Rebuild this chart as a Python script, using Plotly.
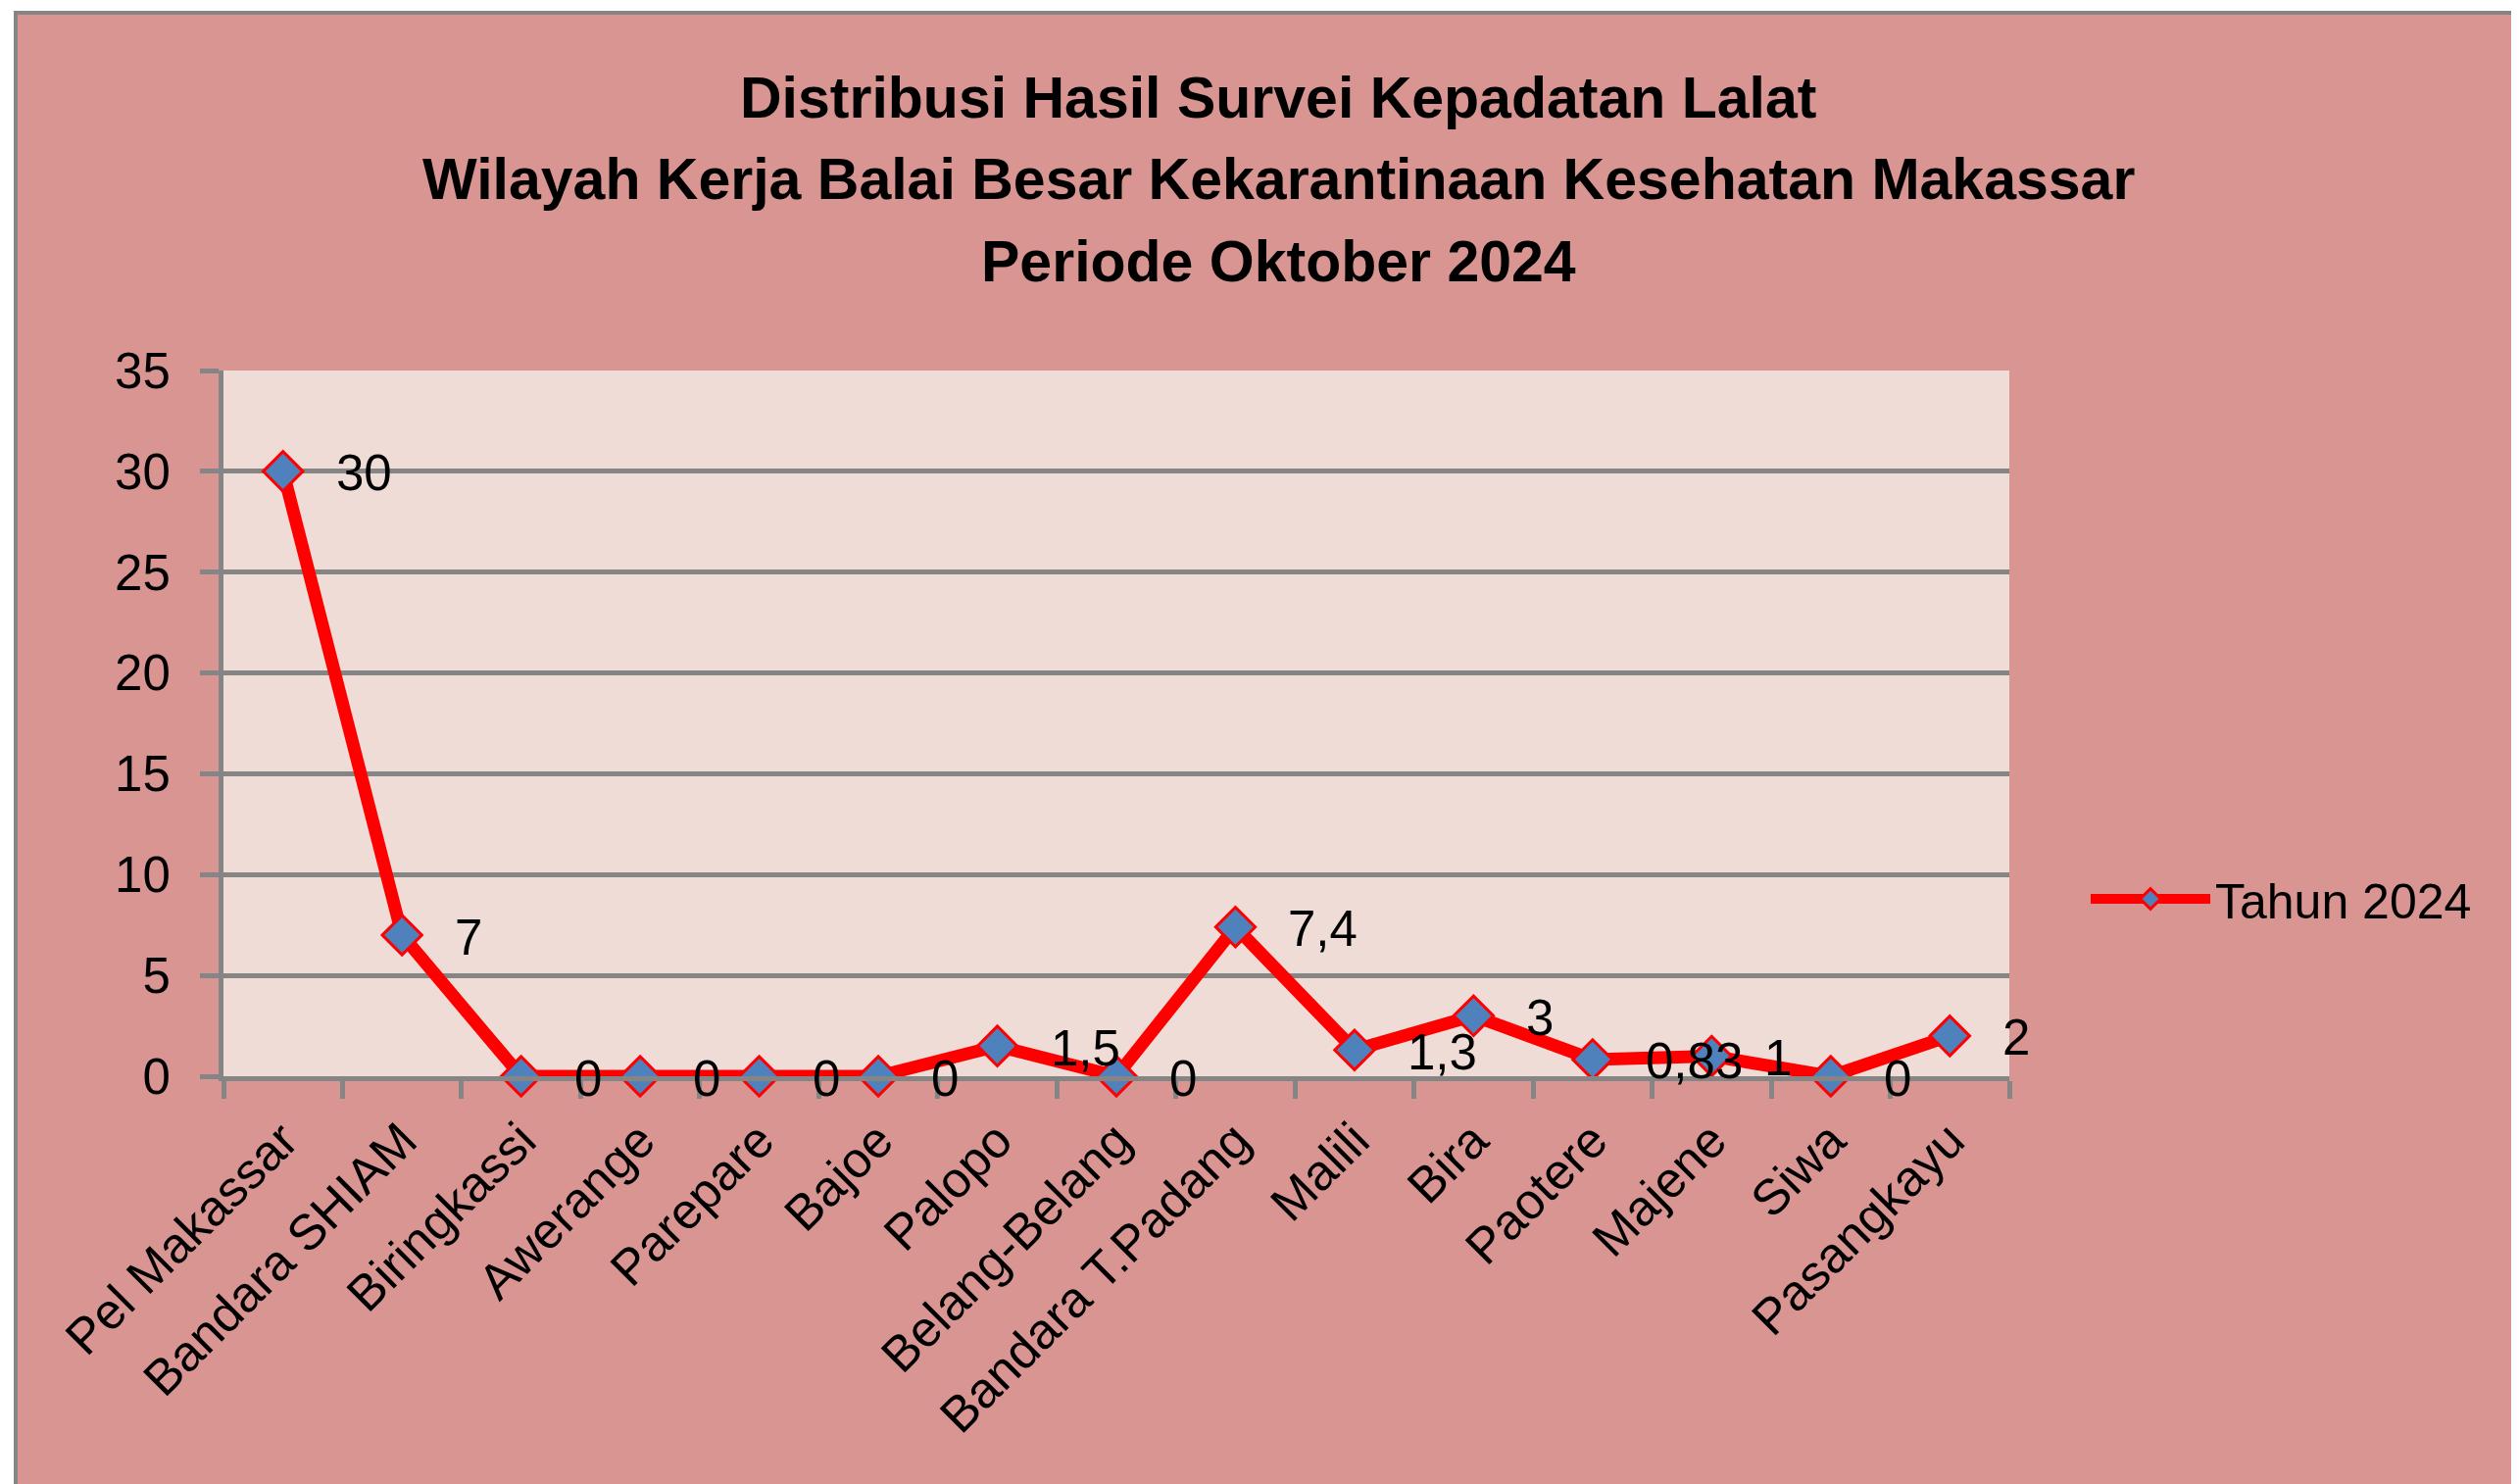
import plotly.graph_objects as go

categories = ["Pel Makassar", "Bandara SHIAM", "Biringkassi", "Awerange", "Parepare",
              "Bajoe", "Palopo", "Belang-Belang", "Bandara T.Padang", "Malili",
              "Bira", "Paotere", "Majene", "Siwa", "Pasangkayu"]
values_2024 = [30, 7, 0, 0, 0, 0, 1.5, 0, 7.4, 1.3, 3, 0.83, 1, 0, 2]
series_name = "Tahun 2024"
y_ticks = [0, 5, 10, 15, 20, 25, 30, 35]

title_lines = ["Distribusi Hasil Survei Kepadatan Lalat",
               "Wilayah Kerja Balai Besar Kekarantinaan Kesehatan Makassar",
               "Periode Oktober 2024"]

# screen geometry (page body has an 8px margin)
SW, SH = 2570, 1514
OFF = 8
PL, PR, PT, PB = 228, 2050, 378, 1098   # plot box on screen
W, H = SW - OFF, SH - OFF
ML, MT = PL - OFF, PT - OFF
MR, MB = SW - PR, SH - PB
PW, PH = PR - PL, PB - PT

FONT = "Liberation Sans, Arial, sans-serif"
GRAY = "#858585"
PAPER = "#D89592"
PLOTBG = "#EFDCD7"


def fmt(v):
    if float(v).is_integer():
        return str(int(v))
    return str(v).replace(".", ",")


def px_x(px):
    return (px - PL) / PW


def px_y(py):
    return (PB - py) / PH


fig = go.Figure()
fig.add_trace(go.Scatter(
    x=categories, y=values_2024, name=series_name, mode="lines+markers",
    line=dict(color="#FF0000", width=13),
    marker=dict(symbol="diamond", size=31, color="#4F81BD",
                line=dict(color="#FF0000", width=3)),
    cliponaxis=False,
))

for c, v in zip(categories, values_2024):
    fig.add_annotation(x=c, y=v, text=fmt(v), showarrow=False,
                       xanchor="left", yanchor="middle", xshift=52, yshift=-2,
                       font=dict(family=FONT, size=51, color="black"))

title_y = [100, 183, 267]
for line, ty in zip(title_lines, title_y):
    fig.add_annotation(xref="paper", yref="paper", x=px_x(1304), y=px_y(ty),
                       text="<b>%s</b>" % line, showarrow=False,
                       xanchor="center", yanchor="middle",
                       font=dict(family=FONT, size=59, color="black"))

shapes = [
    dict(type="rect", xref="paper", yref="paper", x0=px_x(-5), x1=px_x(SW + 5),
         y0=px_y(12), y1=px_y(-5), fillcolor="white", line=dict(width=0), layer="above"),
    dict(type="rect", xref="paper", yref="paper", x0=px_x(-5), x1=px_x(14),
         y0=px_y(SH + 5), y1=px_y(-5), fillcolor="white", line=dict(width=0), layer="above"),
    dict(type="line", xref="paper", yref="paper", x0=px_x(14), x1=px_x(SW + 5),
         y0=px_y(13), y1=px_y(13), line=dict(color=GRAY, width=4), layer="above"),
    dict(type="line", xref="paper", yref="paper", x0=px_x(16), x1=px_x(16),
         y0=px_y(11), y1=px_y(SH + 5), line=dict(color=GRAY, width=4), layer="above"),
]

fig.update_layout(
    width=W, height=H,
    margin=dict(l=ML, r=MR, t=MT, b=MB, pad=0),
    paper_bgcolor=PAPER, plot_bgcolor=PLOTBG,
    font=dict(family=FONT, size=51, color="black"),
    showlegend=True,
    legend=dict(x=px_x(2128), y=px_y(917), xanchor="left", yanchor="middle",
                bgcolor="rgba(0,0,0,0)", itemwidth=122,
                font=dict(family=FONT, size=50, color="black")),
    shapes=shapes,
)

fig.update_xaxes(
    type="category", range=[-0.5, len(categories) - 0.5],
    showline=True, linecolor=GRAY, linewidth=5,
    ticks="outside", tickson="boundaries", ticklen=18, tickwidth=5, tickcolor=GRAY,
    tickangle=-45, showgrid=False, zeroline=False,
    ticklabelstandoff=10,
    tickfont=dict(family=FONT, size=51, color="black"),
)
fig.update_yaxes(
    range=[0, 35], tickvals=y_ticks, ticktext=[str(t) for t in y_ticks],
    showline=True, linecolor=GRAY, linewidth=5,
    ticks="outside", ticklen=19, tickwidth=5, tickcolor=GRAY,
    showgrid=True, gridcolor=GRAY, gridwidth=5, zeroline=False,
    ticklabelstandoff=20,
    tickfont=dict(family=FONT, size=51, color="black"),
)

fig.write_html("out.html")
